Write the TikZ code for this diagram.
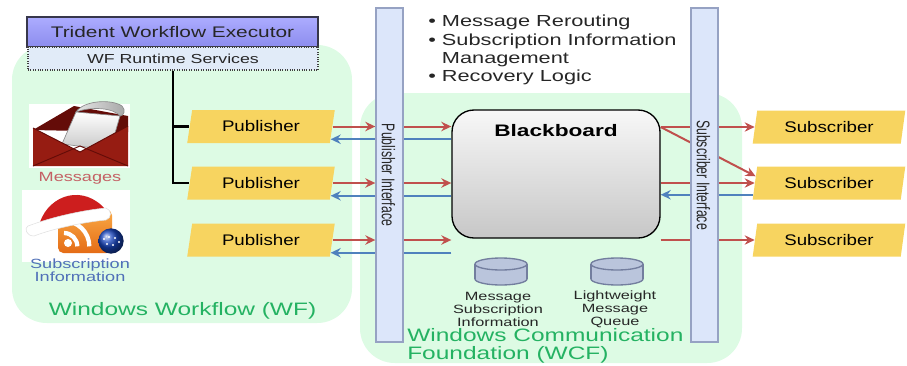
\documentclass[tikz,border=0pt]{standalone}
\usepackage{graphicx}
\usepackage{fontspec}
\setmainfont{Liberation Sans}[FakeStretch=1.36]
\newfontfamily\pubfont{Liberation Sans}[FakeStretch=1.22]
\newfontfamily\plainfont{Liberation Sans}
\usetikzlibrary{arrows.meta,shapes.geometric,calc}

\definecolor{regiongreen}{RGB}{221,251,228}
\definecolor{labelgreen}{RGB}{36,178,98}
\definecolor{execlight}{RGB}{172,172,255}
\definecolor{execdark}{RGB}{140,140,238}
\definecolor{execborder}{RGB}{55,55,75}
\definecolor{runtimefill}{RGB}{225,235,248}
\definecolor{noteyellow}{RGB}{247,212,96}
\definecolor{barfill}{RGB}{220,230,250}
\definecolor{barborder}{RGB}{150,162,195}
\definecolor{msgred}{RGB}{192,80,77}
\definecolor{msgblue}{RGB}{79,129,189}
\definecolor{cylfill}{RGB}{186,197,220}
\definecolor{cylborder}{RGB}{115,126,158}
\definecolor{envred}{RGB}{150,28,18}
\definecolor{envdark}{RGB}{100,12,8}
\definecolor{msglabel}{RGB}{196,96,100}
\definecolor{sublabel}{RGB}{80,112,184}
\definecolor{rsslight}{RGB}{250,170,70}
\definecolor{rssdark}{RGB}{228,108,22}
\definecolor{hatred}{RGB}{205,30,30}
\definecolor{ballblue}{RGB}{25,70,190}

\pgfdeclarelayer{regions}
\pgfdeclarelayer{wires}
\pgfsetlayers{regions,wires,main}

\tikzset{
  region/.style={fill=regiongreen, rounded corners=26pt},
  execbox/.style={draw=execborder, line width=1pt, top color=execlight, bottom color=execdark,
    minimum width=218.25pt, minimum height=22.5pt, inner sep=0pt, text=black!85,
    font=\fontsize{11.5}{12}\selectfont},
  runtimebox/.style={draw=black!75, densely dotted, line width=0.8pt, fill=runtimefill,
    minimum width=217.5pt, minimum height=17.25pt, inner sep=0pt, text=black!85,
    font=\fontsize{9.8}{10}\selectfont},
  notebox/.style={trapezium, trapezium left angle=76, trapezium right angle=104,
    trapezium stretches=true, fill=noteyellow, minimum height=24.75pt, inner sep=0pt,
    font=\pubfont\fontsize{11.5}{12}\selectfont},
  pubbox/.style={notebox, minimum width=111pt},
  subbox/.style={notebox, minimum width=114.75pt},
  ifbar/.style={draw=barborder, line width=1pt, fill=barfill,
    minimum width=20.25pt, minimum height=250.5pt, inner sep=0pt},
  iflabel/.style={rotate=-90, inner sep=0pt, text=black!85, font=\plainfont\fontsize{9.2}{10}\selectfont},
  board/.style={draw=black, line width=1pt, rounded corners=16.5pt, top color=black!3,
    bottom color=black!22, minimum width=156pt, minimum height=96pt},
  trunk/.style={line width=2pt, black},
  redarr/.style={msgred, line width=1.5pt, -{Stealth[length=7.5pt,width=7pt]}},
  bluearr/.style={msgblue, line width=1.5pt, -{Stealth[length=7.5pt,width=7pt]}},
  regionlabel/.style={text=labelgreen, font=\fontsize{13.5}{13.8}\selectfont, inner sep=0pt},
  storelabel/.style={align=center, font=\fontsize{9}{9.75}\selectfont, inner sep=0pt, text=black!85},
  store/.pic={
    \filldraw[fill=cylfill, draw=cylborder, line width=1pt] (0,7.5) ellipse[x radius=26, y radius=6];
    \fill[cylfill] (-26,-7.5) rectangle (26,7.5);
    \draw[cylborder, line width=1pt] (-26,-7.5) -- (-26,7.5) (26,-7.5) -- (26,7.5);
    \filldraw[fill=cylfill, draw=cylborder, line width=1pt] (0,-7.5) ellipse[x radius=26, y radius=6];
  },
}

\begin{document}
\begin{tikzpicture}[x=0.75pt,y=-0.75pt]
\useasboundingbox (0,0) rectangle (907,365);

% the two hosting environments
\begin{pgfonlayer}{regions}
  \fill[region] (12,45) rectangle (352,323);
  \fill[region] (360,93) rectangle (742,363);
\end{pgfonlayer}

% workflow executor stack
\node[execbox] (exec) at (172.5,32) {Trident Workflow Executor};
\node[runtimebox] (rt) at (173,58.5) {WF Runtime Services};

% publishers and subscribers
\node[pubbox] (p1) at (261,126.5) {Publisher};
\node[pubbox] (p2) at (261,183) {Publisher};
\node[pubbox] (p3) at (261,240) {Publisher};
\node[subbox] (s1) at (829,127) {Subscriber};
\node[subbox] (s2) at (829,183) {Subscriber};
\node[subbox] (s3) at (829,240) {Subscriber};

% interface bars
\node[ifbar] (pubif) at (389.5,175) {};
\node[ifbar] (subif) at (704.5,175) {};
\node[iflabel] (pubiflabel) at (388.5,175) {\scalebox{1}[1.5]{Publisher Interface}};
\node[iflabel] (subiflabel) at (703.5,175) {\scalebox{1}[1.5]{Subscriber Interface}};

% blackboard
\node[board] (bb) at (556,174) {};
\node[font=\bfseries\fontsize{12.5}{13}\selectfont, inner sep=0pt] (bbtitle) at (556,131) {Blackboard};

% stores
\pic (store1) at (501,271.5) {store};
\pic (store2) at (617,271.5) {store};
\node[storelabel] (store1label) at (498,309) {Message\\Subscription\\Information};
\node[storelabel] (store2label) at (615,309) {Lightweight\\Message\\Queue};

% blackboard services
\node[anchor=north west, align=left, inner sep=0pt, text=black!85,
      font=\fontsize{12}{13.75}\selectfont] (notes) at (428,15)
  {\textbullet\ Message Rerouting\\
   \textbullet\ Subscription Information\\
   \phantom{\textbullet\ }Management\\
   \textbullet\ Recovery Logic};

% region captions
\node[regionlabel] (wflabel) at (182.5,311) {Windows Workflow (WF)};
\node[regionlabel, anchor=west, align=left] (wcflabel) at (407,346) {Windows Communication\\Foundation (WCF)};

% messages icon
\fill[white] (29,104) rectangle (130,168);
\fill[envdark] (33,130) -- (74,106) -- (128,116) -- (128,132) -- cycle;
\shade[top color=white, bottom color=black!22, draw=black!45, line width=0.5pt]
  (62,144) -- (76,112) -- (120,116) -- (110,150) -- cycle;
\shade[left color=black!10, right color=black!35, draw=black!45, line width=0.5pt]
  (76,112) .. controls (84,100) and (112,99) .. (122,106) .. controls (126,110) and (124,116) .. (120,116) .. controls (114,108) and (92,106) .. (76,112) -- cycle;
\fill[envred] (33,128) -- (80,152) -- (128,126) -- (128,166) -- (33,166) -- cycle;
\draw[envdark, line width=0.7pt] (33,166) -- (80,146) -- (128,166);
\draw[envdark, line width=0.7pt] (33,128) -- (80,152) -- (128,126);
\node[text=msglabel, font=\fontsize{10}{10}\selectfont, inner sep=0pt] (msgtxt) at (80,178) {Messages};

% subscription information icon
\fill[white] (22,190) rectangle (130,262);
\shade[top color=rsslight, bottom color=rssdark, rounded corners=4pt] (58,210) rectangle (112,253);
\fill[white] (68,243) circle[radius=3pt];
\draw[white, line width=3.2pt] (64,233) arc[start angle=90, end angle=0, radius=10pt];
\draw[white, line width=3.2pt] (64,221) arc[start angle=90, end angle=0, radius=19pt];
\fill[hatred] (40,222) .. controls (50,194) and (84,184) .. (106,210) -- (100,220) -- cycle;
\fill[white, draw=black!12] (28,226) .. controls (55,216) and (85,210) .. (106,208)
  .. controls (112,210) and (112,218) .. (106,220) .. controls (85,222) and (55,228) .. (34,236)
  .. controls (26,236) and (24,228) .. (28,226) -- cycle;
\shade[ball color=ballblue] (111,241) circle[radius=9.5pt];
\foreach \dx/\dy in {-7/-2, -2/-4, 4/-3, 8/1, -4/3, 2/4}
  \fill[white] (111+\dx,241+\dy) circle[radius=0.9pt];
\node[text=sublabel, align=center, font=\fontsize{10}{9.8}\selectfont, inner sep=0pt] (subtxt) at (80,270.5) {Subscription\\Information};

% connectors
\coordinate (b1) at ($(p1.east)!0.76!(p1.bottom right corner)$);
\coordinate (b2) at ($(p2.east)!0.76!(p2.bottom right corner)$);
\coordinate (b3) at ($(p3.east)!0.76!(p3.bottom right corner)$);
\coordinate (d2) at ($(s2.west)!0.4!(s2.top left corner)$);
\coordinate (c2) at ($(s2.west)!0.7!(s2.bottom left corner)$);

\begin{pgfonlayer}{wires}
  \draw[trunk] (rt.south) |- (p1.west);
  \draw[trunk] (rt.south) |- (p2.west);
  \foreach \p in {p1,p2,p3} {
    \draw[redarr] (\p.east) -- (\p.east -| pubif.west);
    \draw[redarr] (\p.east -| pubif.east) -- (\p.east -| bb.west);
  }
  \foreach \b in {b1,b2,b3}
    \draw[bluearr] (\b -| bb.west) -- (\b);
  \foreach \s in {s1,s2,s3}
    \draw[redarr] (\s.west -| bb.east) -- (\s.west);
  \draw[redarr] (s1.west -| bb.east) -- (d2);
  \draw[bluearr] (c2) -- (c2 -| bb.east);
\end{pgfonlayer}
\end{tikzpicture}
\end{document}
